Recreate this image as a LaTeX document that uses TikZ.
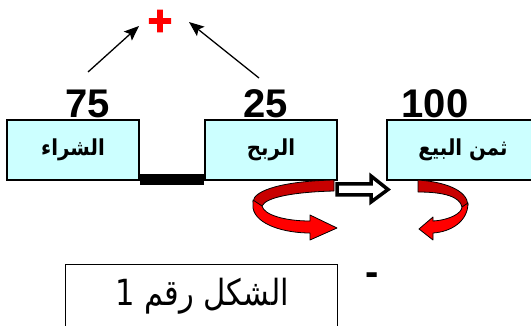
\documentclass[tikz,border=0pt]{standalone}
\usepackage{fontspec}
\setmainfont{Liberation Sans}
\newfontfamily\arabicfont[Script=Arabic]{DejaVu Sans}
\newfontfamily\capfont[Script=Arabic,FakeStretch=0.85]{DejaVu Sans}
\newfontfamily\boxfont[Script=Arabic,FakeStretch=0.9]{DejaVu Sans Bold}
\newfontfamily\plusfont[FakeBold=3]{Liberation Sans Bold}
\TeXXeTstate=1
\usetikzlibrary{arrows.meta}
\definecolor{boxcyan}{HTML}{CCFFFF}
\definecolor{ribred}{HTML}{FF0000}
\definecolor{ribdark}{HTML}{C80000}
\tikzset{
  stepbox/.style={draw=black, line width=1.6pt, fill=boxcyan, minimum width=132pt, minimum height=60pt, inner sep=0pt, font=\boxfont\fontsize{22}{22}\selectfont},
  num/.style={anchor=base, inner sep=0pt, font=\bfseries\fontsize{40}{40}\selectfont},
  arr/.style={line width=1.3pt, -{Stealth[length=15pt,width=12pt,inset=3pt]}},
  ribbon/.style={draw=black, line width=0.8pt, line join=round}
}
\begin{document}
\begin{tikzpicture}[x=1pt,y=-1pt]
\useasboundingbox (0,0) rectangle (531,326);
\clip (0,0) rectangle (531,326);
% boxes
\node[stepbox] (b1) at (73,150) {\beginR الشراء\endR};
\node[stepbox] (b2) at (271,150) {\beginR الربح\endR};
\node[stepbox, minimum width=152pt] (b3) at (463,150) {\beginR ثمن البيع\endR};
% numbers
\node[num] (n75) at (88,118) {75};
\node[num] (n25) at (266,118) {25};
\node[num] (n100) at (435,118) {100};
% plus
\node[text=red, inner sep=0pt, anchor=base, font=\plusfont\fontsize{42}{42}\selectfont] (plus) at (160,35) {+};
\coordinate (s1) at (88,72);
\coordinate (t1) at (139,26);
\coordinate (s2) at (259,78);
\coordinate (t2) at (189,22);
\draw[arr] (s1) -- (t1);
\draw[arr] (s2) -- (t2);
% black bar
\fill[black] ([yshift=7pt]b1.south east) rectangle ([yshift=-4pt]b2.south west);
% hollow arrow
\draw[line width=3.5pt, fill=white, line join=miter] (337,184) -- (371,184) -- (371,176) -- (388,189.5) -- (371,202) -- (371,195) -- (337,195) -- cycle;
% red ribbon arrow 1
\draw[ribbon, fill=ribdark] (334,180) .. controls (285,181) and (253,190) .. (253,202) -- (262,206) .. controls (266,197) and (295,192) .. (334,191) -- cycle;
\draw[ribbon, fill=ribred] (253,200) -- (253,208) .. controls (256,225) and (285,233) .. (310,233) -- (310,240) -- (337,228) -- (310,215) -- (310,221) .. controls (285,221) and (264,215) .. (262,206) -- cycle;
% red ribbon arrow 2
\draw[ribbon, fill=ribdark] (418,180) .. controls (445,182) and (467,190) .. (468,205) -- (462,207) .. controls (460,197) and (445,192) .. (418,192) -- cycle;
\draw[ribbon, fill=ribred] (468,203) .. controls (468,222) and (450,232) .. (433,233) -- (433,240) -- (419,229) -- (433,217) -- (433,221) .. controls (450,220) and (462,213) .. (462,207) -- cycle;
% caption box
\node[draw=black, line width=1pt, minimum width=272pt, minimum height=70pt, inner sep=0pt, anchor=north west] (cap) at (65,264) {};
\node[inner sep=0pt, font=\capfont\fontsize{36}{36}\selectfont] (captxt) at (202,296) {\beginR الشكل رقم 1\endR};
% minus
\node[inner sep=0pt, anchor=base, font=\bfseries\fontsize{40}{40}\selectfont] (minus) at (372,286) {-};
\end{tikzpicture}
\end{document}
